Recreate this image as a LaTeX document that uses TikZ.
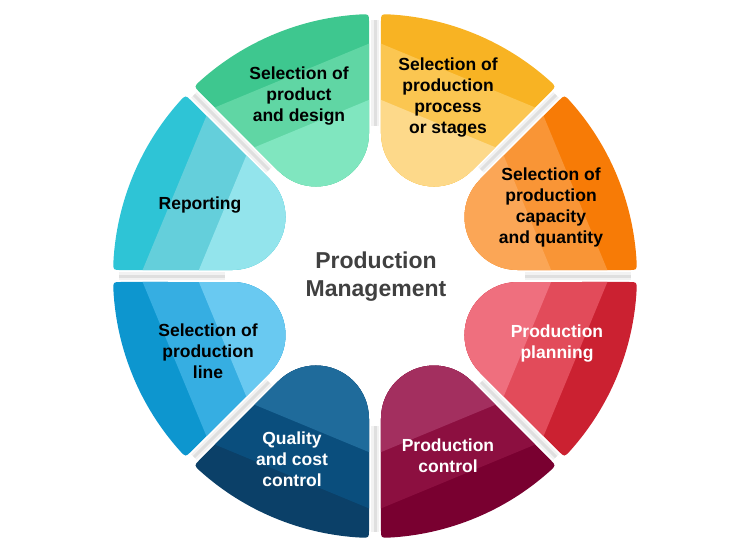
\documentclass[tikz,border=0pt]{standalone}
\usepackage{fontspec}
\setmainfont{Liberation Sans}
\usetikzlibrary{positioning,calc}

\definecolor{grnDark}{HTML}{3EC78F}
\definecolor{grnMid}{HTML}{60D6A4}
\definecolor{grnLight}{HTML}{80E6BF}
\definecolor{yelDark}{HTML}{F8B323}
\definecolor{yelMid}{HTML}{FBC651}
\definecolor{yelLight}{HTML}{FDD98A}
\definecolor{orgDark}{HTML}{F77B06}
\definecolor{orgMid}{HTML}{F99536}
\definecolor{orgLight}{HTML}{FBA656}
\definecolor{redDark}{HTML}{CB2131}
\definecolor{redMid}{HTML}{E24B5A}
\definecolor{redLight}{HTML}{EF6F7E}
\definecolor{marDark}{HTML}{790030}
\definecolor{marMid}{HTML}{8C0F40}
\definecolor{marLight}{HTML}{A32F5F}
\definecolor{navDark}{HTML}{0B4068}
\definecolor{navMid}{HTML}{0A4E7D}
\definecolor{navLight}{HTML}{1F6B9B}
\definecolor{bluDark}{HTML}{0D96CF}
\definecolor{bluMid}{HTML}{36AEE2}
\definecolor{bluLight}{HTML}{69C9F1}
\definecolor{cyaDark}{HTML}{2EC4D6}
\definecolor{cyaMid}{HTML}{64CFDB}
\definecolor{cyaLight}{HTML}{93E4EC}
\definecolor{titleGray}{HTML}{404040}

% one petal, bisector along the x axis
\newcommand{\petalpath}{(133.95,48.99) -- (236.9,91.64) .. controls (244.3,94.7) .. (19.44:262)
  arc[start angle=19.44,end angle=-19.44,radius=262] .. controls (244.3,-94.7) .. (236.9,-91.64)
  -- (133.95,-48.99) arc[start angle=247.5,end angle=112.5,radius=53] -- cycle}

\tikzset{
  label/.style={align=center, font=\fontsize{17.5}{21}\selectfont\bfseries, text=black},
  labelw/.style={label, text=white}
}

\begin{document}
\begin{tikzpicture}[x=1pt,y=1pt]
    \useasboundingbox (-375,-274) rectangle (374,276);
    % Shadows in the gaps
    \foreach \a in {0,45,...,315} {
        \draw [line width=8, black, opacity=.05] (\a:150) -- (\a:256);
        \draw [line width=3, black, opacity=.08] (\a:150) -- (\a:256);
    }
    % Petals
    \foreach \ang/\dk/\md/\lt in {67.5/yelDark/yelMid/yelLight, 22.5/orgDark/orgMid/orgLight,
        -22.5/redDark/redMid/redLight, -67.5/marDark/marMid/marLight,
        -112.5/navDark/navMid/navLight, -157.5/bluDark/bluMid/bluLight,
        157.5/cyaDark/cyaMid/cyaLight, 112.5/grnDark/grnMid/grnLight} {
        \begin{scope}[rotate=\ang]
            \clip \petalpath;
            \fill [\dk] (0,-300) rectangle (300,300);
            \fill [\md] (0,-300) rectangle (217,300);
            \fill [\lt] (0,-300) rectangle (165,300);
        \end{scope}
    }
    % Labels
    \node [label] (design) at (-76,180) {Selection of\\product\\and design};
    \node [label] (process) at (73,178) {Selection of\\production\\process\\or stages};
    \node [label] (capacity) at (176,69) {Selection of\\production\\capacity\\and quantity};
    \node [labelw] (planning) at (182,-68) {Production\\planning};
    \node [labelw] (control) at (73,-180) {Production\\control};
    \node [labelw] (quality) at (-83,-183) {Quality\\and cost\\control};
    \node [label] (line) at (-167,-75) {Selection of\\production\\line};
    \node [label] (reporting) at (-175,71) {Reporting};
    % Centre
    \node [align=center, font=\fontsize{23}{28}\selectfont\bfseries, text=titleGray] (title) at (1,-1) {Production\\Management};
\end{tikzpicture}
\end{document}
